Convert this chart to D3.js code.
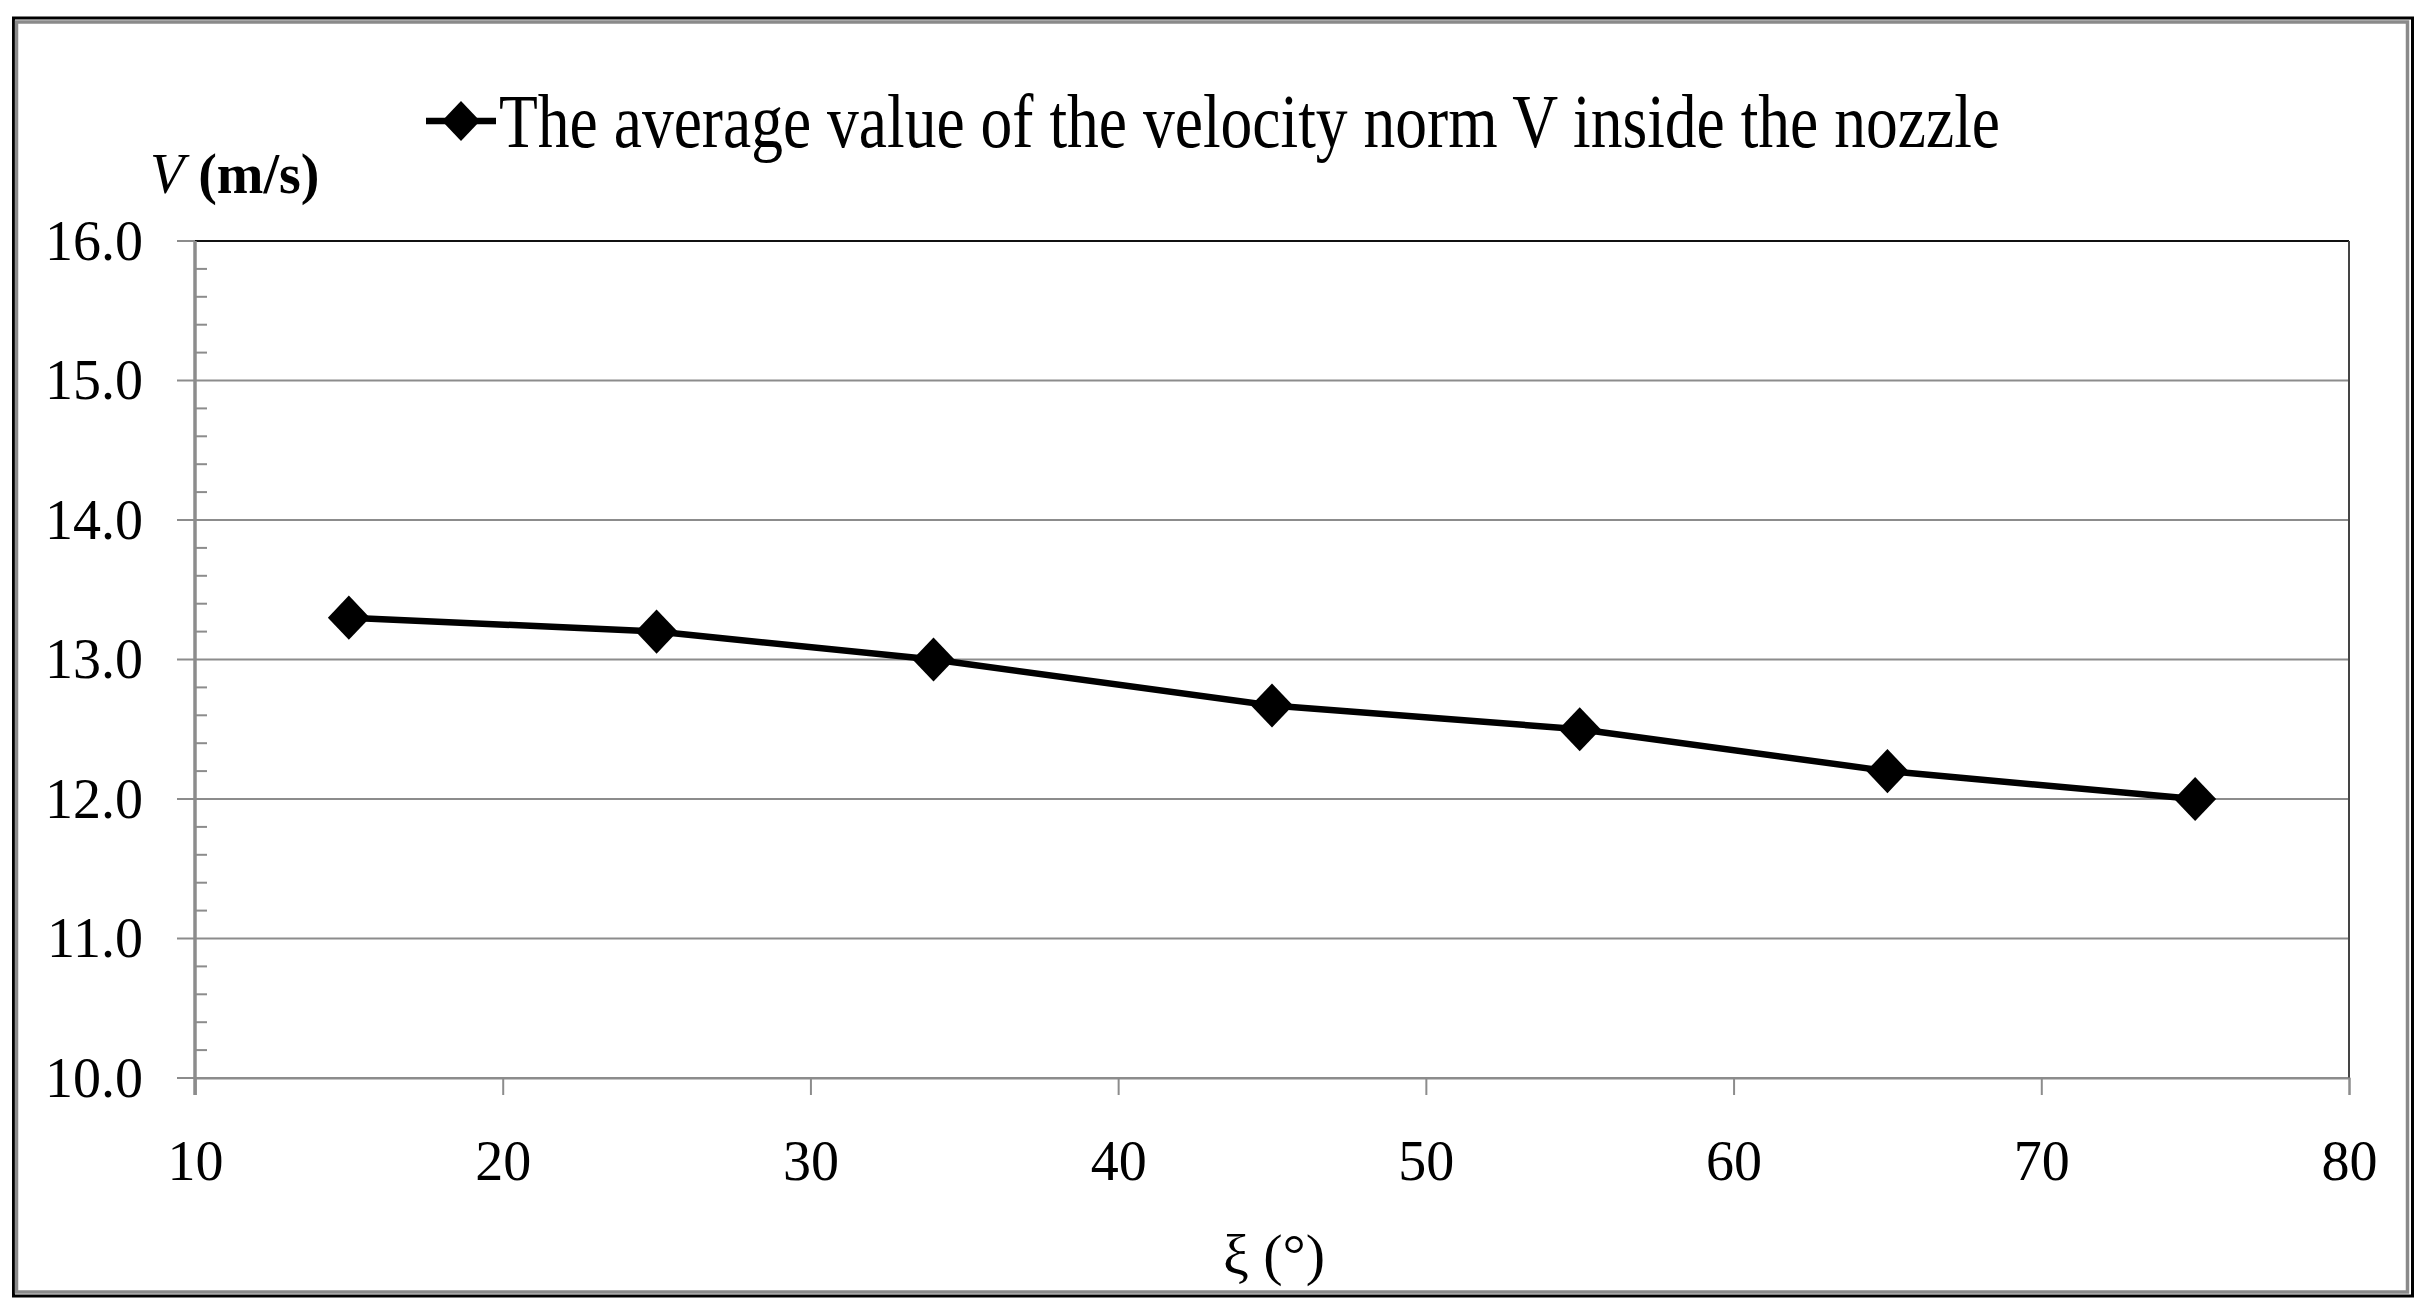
<!DOCTYPE html>
<html>
<head>
<meta charset="utf-8">
<script src="https://cdn.jsdelivr.net/npm/d3@7"></script>
<style>
  body { margin: 0; background: #fff; }
  svg { display: block; font-family: "Liberation Serif", "Times New Roman", serif; }
</style>
</head>
<body>
<div id="chart"></div>
<script>
// data
const angles = [15, 25, 34, 45, 55, 65, 75];
const velocity = [13.3, 13.2, 13.0, 12.67, 12.5, 12.2, 12.0];
const xTicks = [10, 20, 30, 40, 50, 60, 70, 80];
const yTicks = [10, 11, 12, 13, 14, 15, 16];
const seriesName = 'The average value of the velocity norm V inside the nozzle';

const W = 2430, H = 1310;
const plot = { left: 195, right: 2349, top: 241, bottom: 1078 };

const svg = d3.select('#chart').append('svg')
  .attr('width', W)
  .attr('height', H);

// outer double frame
svg.append('rect')
  .attr('x', 13.5).attr('y', 18).attr('width', 2399).attr('height', 1278)
  .attr('fill', 'none').attr('stroke', '#000').attr('stroke-width', 3);
svg.append('rect')
  .attr('x', 16.5).attr('y', 22).attr('width', 2391).attr('height', 1270)
  .attr('fill', 'none').attr('stroke', '#8a8a8a').attr('stroke-width', 3.5);

const x = d3.scaleLinear().domain([10, 80]).range([plot.left, plot.right]);
const y = d3.scaleLinear().domain([10, 16]).range([plot.bottom, plot.top]);

// gridlines (also the outside major ticks on the y axis)
svg.append('g')
  .selectAll('line')
  .data(yTicks)
  .enter()
  .append('line')
  .attr('x1', plot.left - 18)
  .attr('x2', plot.right)
  .attr('y1', (d) => y(d))
  .attr('y2', (d) => y(d))
  .attr('stroke', '#8c8c8c')
  .attr('stroke-width', 2);

// top and right border of plot area
svg.append('line')
  .attr('x1', plot.left).attr('x2', plot.right)
  .attr('y1', y(16)).attr('y2', y(16))
  .attr('stroke', '#111').attr('stroke-width', 2);
svg.append('line')
  .attr('x1', plot.right).attr('x2', plot.right)
  .attr('y1', plot.top).attr('y2', plot.bottom)
  .attr('stroke', '#444').attr('stroke-width', 2);

// minor ticks, inside, every 0.2
const minor = d3.range(10, 16.001, 0.2).filter((v) => Math.abs(v - Math.round(v)) > 0.01);
svg.append('g')
  .selectAll('line')
  .data(minor)
  .enter()
  .append('line')
  .attr('x1', plot.left)
  .attr('x2', plot.left + 12)
  .attr('y1', (d) => y(d))
  .attr('y2', (d) => y(d))
  .attr('stroke', '#8c8c8c')
  .attr('stroke-width', 2);

// x axis
const xAxis = d3.axisBottom(x).tickValues(xTicks).tickSize(17).tickFormat(d3.format('d'));
const gx = svg.append('g')
  .attr('transform', `translate(0,${plot.bottom})`)
  .call(xAxis);
gx.select('.domain').attr('stroke', '#8c8c8c').attr('stroke-width', 2);
gx.selectAll('.tick line').attr('stroke', '#8c8c8c').attr('stroke-width', 2);
gx.selectAll('.tick text')
  .attr('y', 102).attr('dy', 0)
  .attr('fill', '#000')
  .style('font-family', '"Liberation Serif", serif')
  .style('font-size', '56px');

// y axis
const yAxis = d3.axisLeft(y).tickValues(yTicks).tickSize(0).tickFormat(d3.format('.1f'));
const gy = svg.append('g')
  .attr('transform', `translate(${plot.left},0)`)
  .call(yAxis);
gy.select('.domain').attr('stroke', '#8c8c8c').attr('stroke-width', 3.5)
  .attr('d', `M0,${plot.top}V${plot.bottom + 17}`);
gy.selectAll('.tick text')
  .attr('x', -52).attr('dy', 0).attr('y', 18)
  .attr('fill', '#000')
  .style('font-family', '"Liberation Serif", serif')
  .style('font-size', '56px');

// series line
const line = d3.line()
  .x((d, i) => x(angles[i]))
  .y((d) => y(d));

svg.append('path')
  .datum(velocity)
  .attr('fill', 'none')
  .attr('stroke', '#000')
  .attr('stroke-width', 6.5)
  .attr('stroke-linejoin', 'round')
  .attr('d', line);

const diamond = (cx, cy, r) => `M${cx},${cy - r * 1.05}L${cx + r},${cy}L${cx},${cy + r * 1.05}L${cx - r},${cy}Z`;

svg.append('g')
  .selectAll('path')
  .data(velocity)
  .enter()
  .append('path')
  .attr('d', (d, i) => diamond(x(angles[i]), y(d), 21))
  .attr('fill', '#000');

// legend
const lg = svg.append('g');
lg.append('line')
  .attr('x1', 426).attr('x2', 496).attr('y1', 121).attr('y2', 121)
  .attr('stroke', '#000').attr('stroke-width', 6.5);
lg.append('path').attr('d', diamond(461, 121, 19)).attr('fill', '#000');
lg.append('text')
  .attr('x', 499).attr('y', 147)
  .attr('textLength', 1501)
  .attr('lengthAdjust', 'spacingAndGlyphs')
  .style('font-size', '77px')
  .text(seriesName);

// y axis title
const yt = svg.append('text')
  .attr('x', 150).attr('y', 193)
  .style('font-size', '56px');
yt.append('tspan').style('font-style', 'italic').text('V');
yt.append('tspan').style('font-weight', 'bold').text(' (m/s)');

// x axis title
svg.append('text')
  .attr('x', 1274).attr('y', 1274)
  .attr('text-anchor', 'middle')
  .style('font-size', '58px')
  .text('ξ (°)');
</script>
</body>
</html>
